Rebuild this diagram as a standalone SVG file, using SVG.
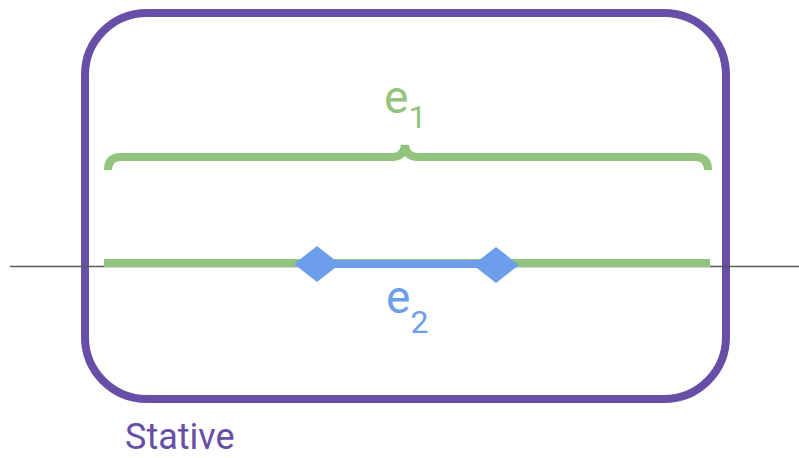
<svg xmlns="http://www.w3.org/2000/svg" width="799" height="458" viewBox="0 0 799 458">
<style>
.g{stroke:#93c47d;fill:none;stroke-width:8}
.b{fill:#6d9eeb}
.t{font-family:Roboto,"Liberation Sans",sans-serif}
</style>
<rect width="799" height="458" fill="#fff"/>
<g id="stative">
<rect x="85" y="13" width="641" height="386" rx="62" fill="none" stroke="#674ea7" stroke-width="8"/>
<text class="t" x="125" y="449" font-size="36" fill="#674ea7">Stative</text>
</g>
<g id="timeline">
<line x1="10" y1="266.5" x2="799" y2="266.5" stroke="#595959" stroke-width="1.5"/>
</g>
<g id="e1">
<path class="g" stroke-linecap="butt" d="M108 170 Q108 157 121 157 L392 157 Q404 157 405 145 Q406 157 418 157 L695 157 Q708 157 708 170"/>
<line class="g" x1="104" y1="263" x2="710" y2="263"/>
<text class="t" x="384" y="113" font-size="46" fill="#93c47d">e<tspan font-size="32" dy="15">1</tspan></text>
</g>
<g id="e2">
<line x1="317" y1="264" x2="496" y2="264" stroke="#6d9eeb" stroke-width="8"/>
<path class="b" d="M294 264 L317 246 L340 264 L317 282 Z"/>
<path class="b" d="M473 265 L496 247 L519 265 L496 283 Z"/>
<text class="t" x="386" y="313" font-size="46" fill="#6d9eeb">e<tspan font-size="32" dy="20">2</tspan></text>
</g>
</svg>
